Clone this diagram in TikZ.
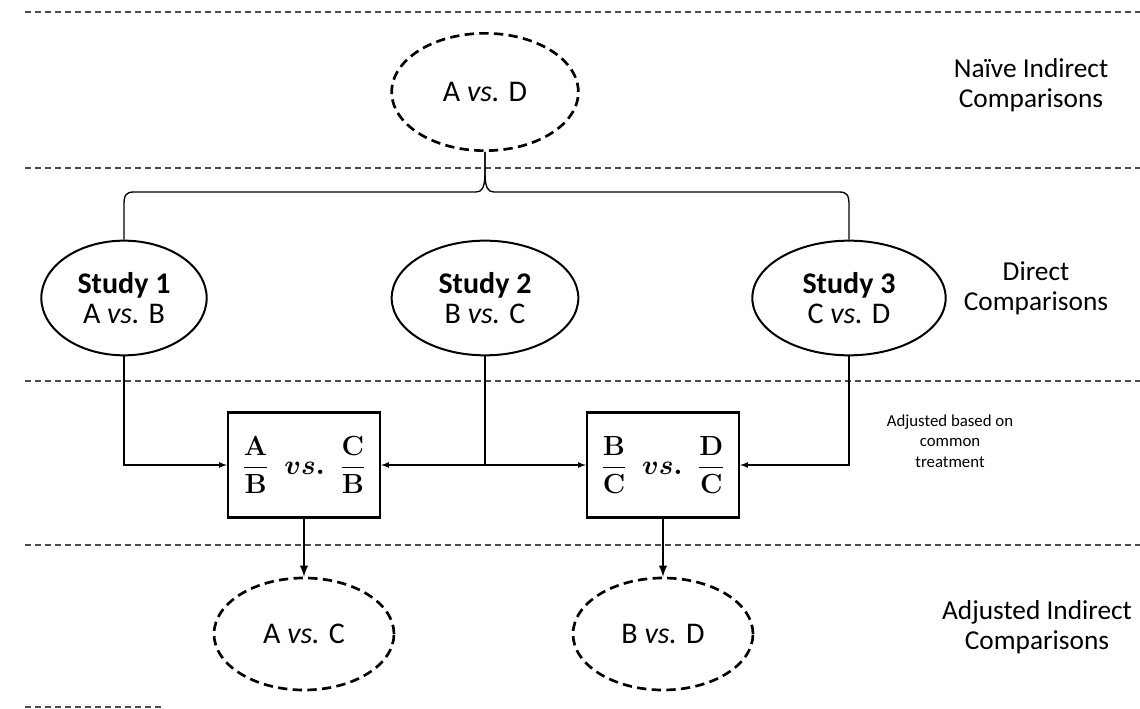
\documentclass[tikz,border=0pt]{standalone}
\usepackage{amsmath,bm}
\usepackage[no-math]{fontspec}
\setmainfont{Carlito}
\usetikzlibrary{shapes.geometric,arrows}
\newcommand{\vs}{\textit{vs.}}
\newcommand{\frc}[2]{\dfrac{\mathbf{#1}}{\mathbf{#2}}}
\begin{document}
\begin{tikzpicture}
      [
      x=0.75pt,y=-0.75pt,
      study/.style={ellipse,draw,line width=1.5pt,inner sep=0pt,minimum height=86pt,align=center,font=\fontsize{22.5}{22}\selectfont},
      result/.style={ellipse,draw,line width=2pt,dash pattern=on 7pt off 4pt,inner sep=0pt,minimum width=135pt,minimum height=84pt,font=\fontsize{22.5}{22}\selectfont},
      adjust/.style={rectangle,draw,fill=white,line width=1.8pt,inner sep=0pt,minimum width=114pt,minimum height=79pt,font=\fontsize{20}{24}\selectfont},
      level/.style={align=center,font=\fontsize{20.5}{22.5}\selectfont},
      divider/.style={black!70,line width=0.9pt,dash pattern=on 4.5pt off 3pt}
      ]
      \useasboundingbox (0,0) rectangle (1140,709);
      % dividers
      \draw [divider] (25,12) -- (1140,12);
      \draw [divider] (25,168) -- (1140,168);
      \draw [divider] (25,381) -- (1140,381);
      \draw [divider] (25,545) -- (1140,545);
      \draw [divider] (25,707) -- (163,707);
      % nodes
      \node (ad) at (485,92) [result,minimum width=140pt,minimum height=88pt] {A \vs{} D};
      \node (s1) at (124,298) [study,minimum width=124pt] {\textbf{Study 1}\\A \vs{} B};
      \node (s2) at (485,298) [study,minimum width=140pt] {\textbf{Study 2}\\B \vs{} C};
      \node (s3) at (849,298) [study,minimum width=145pt] {\textbf{Study 3}\\C \vs{} D};
      \node (b1) at (304,465) [adjust] {$\frc{A}{B}\;\;\bm{vs.}\;\;\frc{C}{B}$};
      \node (b2) at (663,465) [adjust] {$\frc{B}{C}\;\;\bm{vs.}\;\;\frc{D}{C}$};
      \node (ac) at (304,634) [result] {A \vs{} C};
      \node (bd) at (663,634) [result] {B \vs{} D};
      % labels
      \node (l1) at (1031,85) [level] {Naïve Indirect\\Comparisons};
      \node (l2) at (1036,288) [level] {Direct\\Comparisons};
      \node (l3) at (950,441) [align=center,font=\fontsize{12.6}{15.4}\selectfont] {Adjusted based on\\common\\treatment};
      \node (l4) at (1037,627) [level] {Adjusted Indirect\\Comparisons};
      % brace
      \draw [line width=1pt] (ad.south) -- (485,172) .. controls (485,188) and (482,192) .. (476,192)
        -- (134,192) .. controls (126,192) and (124,195) .. (124,205) -- (s1.north);
      \draw [line width=1pt] (ad.south) -- (485,172) .. controls (485,188) and (488,192) .. (494,192)
        -- (839,192) .. controls (847,192) and (849,195) .. (849,205) -- (s3.north);
      % connectors
      \draw [-latex, line width=1pt] (s1.south) |- (b1.west);
      \draw [-latex, line width=1pt] (s2.south) |- (b1.east);
      \draw [-latex, line width=1pt] (s2.south) |- (b2.west);
      \draw [-latex, line width=1pt] (s3.south) |- (b2.east);
      \draw [-latex, line width=1.8pt] (b1) to (ac);
      \draw [-latex, line width=1.8pt] (b2) to (bd);
    \end{tikzpicture}
\end{document}
